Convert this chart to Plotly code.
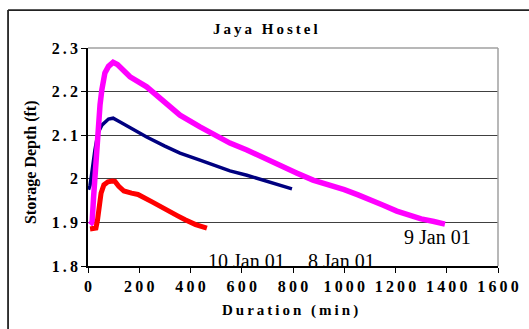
import plotly.graph_objects as go

# ---- data ----
jan9_x = [8, 16, 22, 28, 34, 39, 47, 54, 66, 80, 98, 115, 130, 164, 229, 300, 359, 437, 488, 554, 620, 683, 749, 816, 878, 944, 1000, 1054, 1100, 1150, 1205, 1250, 1300, 1350, 1393]
jan9_y = [1.895, 1.90, 1.96, 2.02, 2.06, 2.09, 2.17, 2.204, 2.243, 2.258, 2.267, 2.262, 2.252, 2.234, 2.211, 2.175, 2.146, 2.119, 2.102, 2.082, 2.066, 2.050, 2.032, 2.013, 1.997, 1.986, 1.975, 1.963, 1.953, 1.940, 1.926, 1.917, 1.908, 1.902, 1.896]

jan8_x = [2, 8, 14, 20, 27, 39, 54, 80, 98, 120, 164, 229, 300, 359, 437, 488, 554, 620, 683, 749, 796]
jan8_y = [1.975, 1.985, 2.01, 2.04, 2.066, 2.105, 2.123, 2.137, 2.139, 2.132, 2.117, 2.096, 2.075, 2.059, 2.043, 2.033, 2.018, 2.008, 1.997, 1.987, 1.977]

jan10_x = [8, 20, 31, 37, 43, 51, 62, 78, 95, 105, 120, 140, 170, 195, 250, 312, 350, 379, 420, 464]
jan10_y = [1.885, 1.885, 1.887, 1.905, 1.928, 1.967, 1.986, 1.993, 1.995, 1.994, 1.983, 1.972, 1.967, 1.964, 1.947, 1.929, 1.915, 1.906, 1.895, 1.887]

series_names = ["8 Jan 01", "9 Jan 01", "10 Jan 01"]
x_ticks = [0, 200, 400, 600, 800, 1000, 1200, 1400, 1600]
y_ticks = [1.8, 1.9, 2.0, 2.1, 2.2, 2.3]
y_tick_labels = ["1.8", "1.9", "2", "2.1", "2.2", "2.3"]

TS = "\u2009"  # thin space used to imitate the wide letter spacing


def spaced(s):
    return TS.join(list(s))


FONT = "Liberation Serif, Times New Roman, serif"

fig = go.Figure()
fig.add_trace(go.Scatter(x=jan8_x, y=jan8_y, mode="lines", name=series_names[0],
                         line=dict(color="#000080", width=3.5)))
fig.add_trace(go.Scatter(x=jan9_x, y=jan9_y, mode="lines", name=series_names[1],
                         line=dict(color="#FF00FF", width=5.5)))
fig.add_trace(go.Scatter(x=jan10_x, y=jan10_y, mode="lines", name=series_names[2],
                         line=dict(color="#FF0000", width=5)))

fig.update_layout(
    width=529, height=329,
    margin=dict(l=88, r=31, t=48, b=63),
    paper_bgcolor="white", plot_bgcolor="white",
    showlegend=False,
    font=dict(family=FONT, color="black"),
)

fig.update_xaxes(
    range=[0, 1600], tickvals=x_ticks, ticktext=[spaced(str(v)) for v in x_ticks],
    tickfont=dict(family=FONT, size=16, color="black", weight="bold"),
    showgrid=False, zeroline=False, automargin=False,
    showline=True, linecolor="black", linewidth=1.5,
    ticks="outside", ticklen=5, tickcolor="black", tickwidth=1,
)
fig.update_yaxes(
    range=[1.8, 2.3], tickvals=y_ticks, ticktext=[spaced(t) for t in y_tick_labels],
    tickfont=dict(family=FONT, size=16, color="black", weight="bold"),
    showgrid=True, gridcolor="#404040", gridwidth=1, zeroline=False, automargin=False,
    showline=True, linecolor="black", linewidth=1.5,
    ticks="outside", ticklen=5, tickcolor="black", tickwidth=1,
)

# plot-area border (top/right gray) and outer chart border (top/left)
fig.add_shape(type="line", xref="paper", yref="paper", x0=0, x1=1, y0=1, y1=1,
              line=dict(color="#A0A0A0", width=1.5))
fig.add_shape(type="line", xref="paper", yref="paper", x0=1, x1=1, y0=0, y1=1,
              line=dict(color="#A0A0A0", width=1.5))
fig.add_shape(type="line", xref="paper", yref="paper", x0=-0.195, x1=1.1, y0=1.174, y1=1.174,
              line=dict(color="#222222", width=1.8))
fig.add_shape(type="line", xref="paper", yref="paper", x0=-0.195, x1=-0.195, y0=-0.35, y1=1.174,
              line=dict(color="#222222", width=1.8))

# titles
fig.add_annotation(text="<b>" + spaced("Jaya Hostel") + "</b>", xref="paper", yref="paper",
                   x=0.434, y=1.087, showarrow=False, font=dict(family=FONT, size=15, color="black"),
                   xanchor="center", yanchor="middle")
fig.add_annotation(text="<b>" + spaced("Duration (min)") + "</b>", xref="paper", yref="paper",
                   x=0.493, y=-0.206, showarrow=False, font=dict(family=FONT, size=15, color="black"),
                   xanchor="center", yanchor="middle")
fig.add_annotation(text="<b>Storage Depth (ft)</b>", xref="paper", yref="paper",
                   x=-0.139, y=0.477, showarrow=False, textangle=-90,
                   font=dict(family=FONT, size=16, color="black"),
                   xanchor="center", yanchor="middle")

# series labels
label_x = [991, 1362, 620]
label_y = [1.811, 1.866, 1.811]
for name, lx, ly in zip(series_names, label_x, label_y):
    fig.add_annotation(text=name, x=lx, y=ly, xref="x", yref="y", showarrow=False,
                       font=dict(family=FONT, size=20, color="black"),
                       xanchor="center", yanchor="middle")

fig.write_html("out.html", config={"displayModeBar": False},
               post_script="document.body.style.margin='0';document.body.style.padding='0';")
